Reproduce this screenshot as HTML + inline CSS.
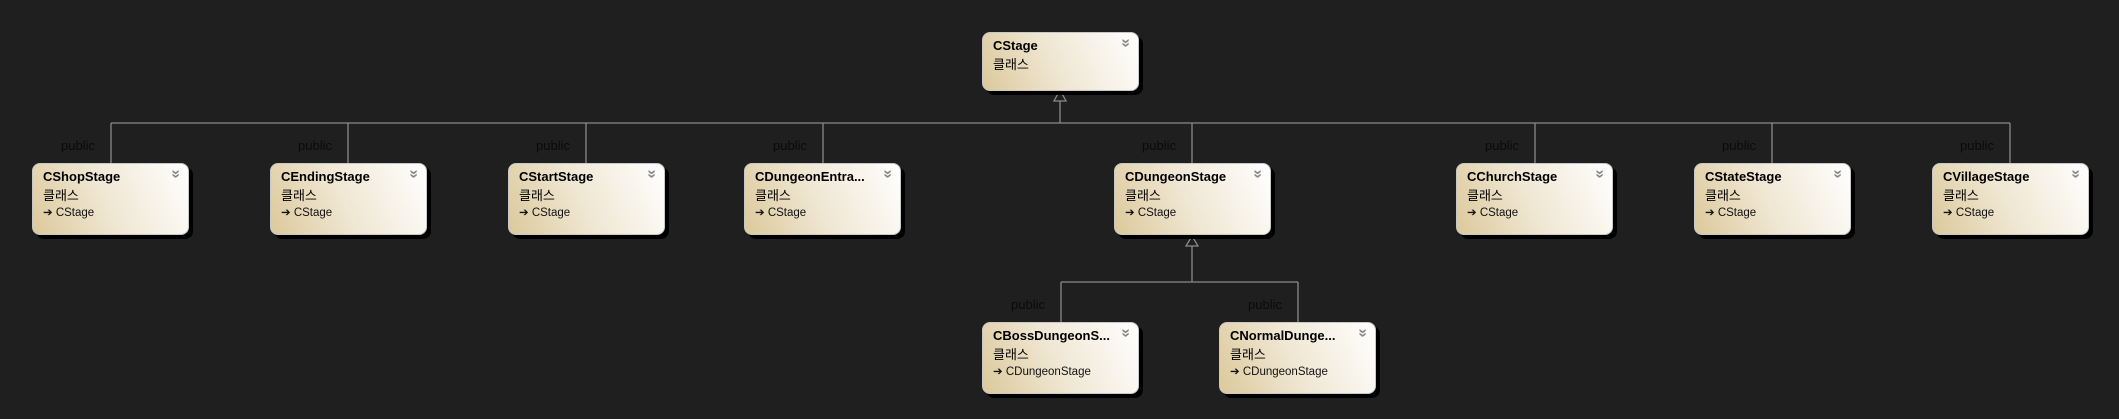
<!DOCTYPE html>
<html><head><meta charset="utf-8">
<style>
body{margin:0;width:2119px;height:419px;background:#1f1f1f;position:relative;overflow:hidden;font-family:"Liberation Sans","Noto Sans CJK KR",sans-serif}
.b{position:absolute;width:155px;border:1px solid #c8c8c8;border-radius:8px;background:linear-gradient(65deg,#dcc99b 0%,#efe6d2 45%,#ffffff 100%);box-shadow:4px 4px 0 #000;box-sizing:content-box}
.n{position:absolute;left:10px;top:5px;font-size:13px;font-weight:bold;color:#000;white-space:nowrap}
.k{position:absolute;left:10px;top:21px;font-size:13px;color:#000}
.p{position:absolute;left:10px;top:41px;font-size:11.5px;color:#111;white-space:nowrap}
.c{position:absolute;right:8px;top:2px;font-size:16px;line-height:16px;color:#888;transform:rotate(90deg);font-weight:bold}
.pub{position:absolute;font-size:13px;color:#0a0a0a;width:80px;text-align:right}
</style></head><body>
<svg width="2119" height="419" style="position:absolute;left:0;top:0">
<g stroke="#8a8a8a" stroke-width="1.3" fill="none">
<line x1="111" y1="123" x2="2010" y2="123"/>
<line x1="1060" y1="101" x2="1060" y2="123"/>
<polygon points="1060,90 1054,101 1066,101" fill="#1f1f1f"/>
<line x1="111" y1="123" x2="111" y2="163"/>
<line x1="348" y1="123" x2="348" y2="163"/>
<line x1="586" y1="123" x2="586" y2="163"/>
<line x1="823" y1="123" x2="823" y2="163"/>
<line x1="1192" y1="123" x2="1192" y2="163"/>
<line x1="1535" y1="123" x2="1535" y2="163"/>
<line x1="1772" y1="123" x2="1772" y2="163"/>
<line x1="2010" y1="123" x2="2010" y2="163"/>
<line x1="1061" y1="282" x2="1298" y2="282"/>
<line x1="1192" y1="246" x2="1192" y2="282"/>
<polygon points="1192,236 1186,246 1198,246" fill="#1f1f1f"/>
<line x1="1061" y1="282" x2="1061" y2="322"/>
<line x1="1298" y1="282" x2="1298" y2="322"/>
</g></svg>

<div class="b" style="left:982px;top:32px;height:57px"><div class="n">CStage</div><div class="k">클래스</div><div class="c">»</div></div>

<div class="pub" style="left:15px;top:138px">public</div>
<div class="pub" style="left:252px;top:138px">public</div>
<div class="pub" style="left:490px;top:138px">public</div>
<div class="pub" style="left:727px;top:138px">public</div>
<div class="pub" style="left:1096px;top:138px">public</div>
<div class="pub" style="left:1439px;top:138px">public</div>
<div class="pub" style="left:1676px;top:138px">public</div>
<div class="pub" style="left:1914px;top:138px">public</div>
<div class="pub" style="left:965px;top:297px">public</div>
<div class="pub" style="left:1202px;top:297px">public</div>

<div class="b" style="left:32px;top:163px;height:70px"><div class="n">CShopStage</div><div class="k">클래스</div><div class="p">➔ CStage</div><div class="c">»</div></div>
<div class="b" style="left:270px;top:163px;height:70px"><div class="n">CEndingStage</div><div class="k">클래스</div><div class="p">➔ CStage</div><div class="c">»</div></div>
<div class="b" style="left:508px;top:163px;height:70px"><div class="n">CStartStage</div><div class="k">클래스</div><div class="p">➔ CStage</div><div class="c">»</div></div>
<div class="b" style="left:744px;top:163px;height:70px"><div class="n">CDungeonEntra...</div><div class="k">클래스</div><div class="p">➔ CStage</div><div class="c">»</div></div>
<div class="b" style="left:1114px;top:163px;height:70px"><div class="n">CDungeonStage</div><div class="k">클래스</div><div class="p">➔ CStage</div><div class="c">»</div></div>
<div class="b" style="left:1456px;top:163px;height:70px"><div class="n">CChurchStage</div><div class="k">클래스</div><div class="p">➔ CStage</div><div class="c">»</div></div>
<div class="b" style="left:1694px;top:163px;height:70px"><div class="n">CStateStage</div><div class="k">클래스</div><div class="p">➔ CStage</div><div class="c">»</div></div>
<div class="b" style="left:1932px;top:163px;height:70px"><div class="n">CVillageStage</div><div class="k">클래스</div><div class="p">➔ CStage</div><div class="c">»</div></div>

<div class="b" style="left:982px;top:322px;height:70px"><div class="n">CBossDungeonS...</div><div class="k">클래스</div><div class="p">➔ CDungeonStage</div><div class="c">»</div></div>
<div class="b" style="left:1219px;top:322px;height:70px"><div class="n">CNormalDunge...</div><div class="k">클래스</div><div class="p">➔ CDungeonStage</div><div class="c">»</div></div>
</body></html>
